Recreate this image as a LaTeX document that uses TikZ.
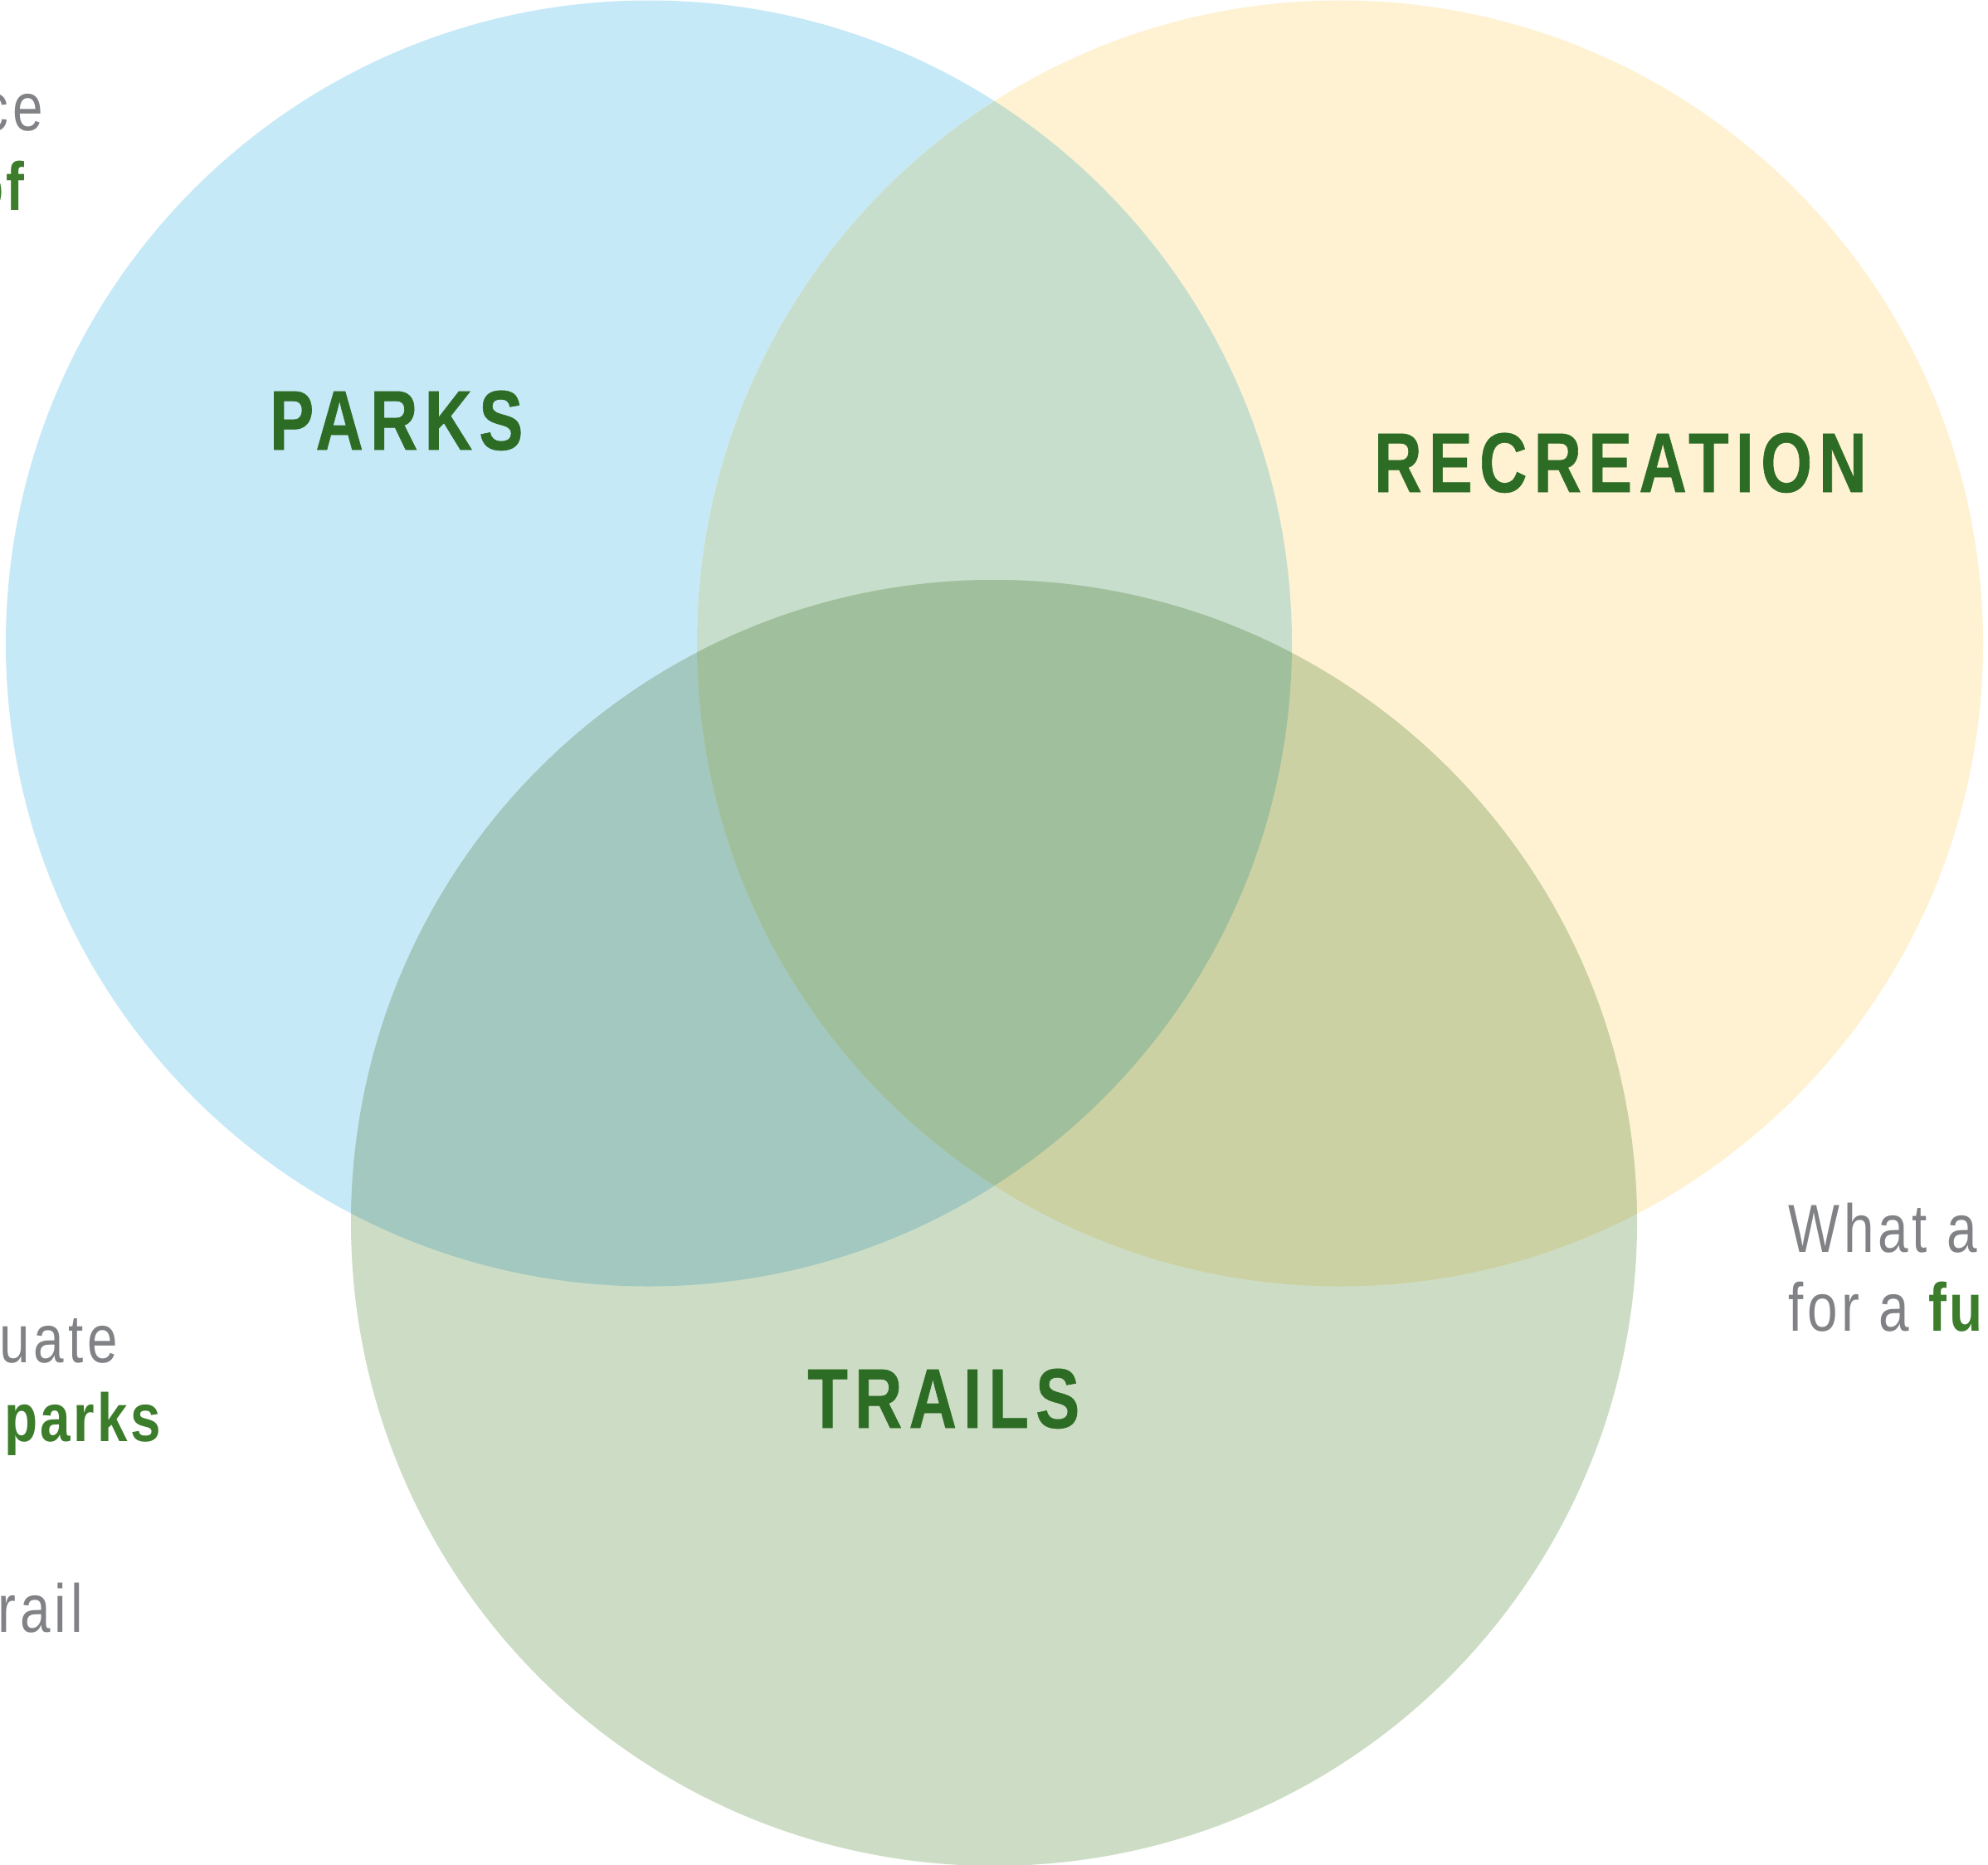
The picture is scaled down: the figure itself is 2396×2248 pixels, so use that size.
\documentclass[tikz,border=0pt]{standalone}
\usepackage{fontspec}
\setmainfont{Liberation Sans}
\newfontfamily\headfont[FakeStretch=0.78,LetterSpace=8,FakeBold=0.6]{Liberation Sans Bold}
\newfontfamily\bodyfont[FakeStretch=0.80,LetterSpace=6]{Liberation Sans}
\newfontfamily\bodybold[FakeStretch=0.80,LetterSpace=4]{Liberation Sans Bold}
\definecolor{cblue}{HTML}{C6E9F8}
\definecolor{cyellow}{HTML}{FEF2D2}
\definecolor{cgreen}{HTML}{CDDDC5}
\definecolor{cab}{HTML}{C7DECD}
\definecolor{cac}{HTML}{A2C8C0}
\definecolor{cbc}{HTML}{CCD1A3}
\definecolor{cabc}{HTML}{A0BF9D}
\definecolor{headgreen}{HTML}{2D6C24}
\definecolor{bodygreen}{HTML}{3B7D2B}
\definecolor{bodygray}{HTML}{808285}
\tikzset{
  heading/.style={inner sep=0pt, text=headgreen, font=\headfont\fontsize{102}{110}\selectfont},
  graytext/.style={inner sep=0pt, text=bodygray, font=\bodyfont\fontsize{82}{95}\selectfont},
  greentext/.style={inner sep=0pt, text=bodygreen, font=\bodybold\fontsize{82}{95}\selectfont},
}
\begin{document}
\begin{tikzpicture}[x=1pt,y=-1pt]
\useasboundingbox (0,0) rectangle (2396,2248);
\fill[white] (0,0) rectangle (2396,2248);
\def\parkscircle{(782,775.5) circle[radius=775]}
\def\reccircle{(1615,775.5) circle[radius=775]}
\def\trailcircle{(1198,1474) circle[radius=775]}
% base circles
\fill[cblue] \parkscircle;
\fill[cyellow] \reccircle;
\fill[cgreen] \trailcircle;
% overlaps
\begin{scope}
  \clip \parkscircle;
  \fill[cab] \reccircle;
\end{scope}
\begin{scope}
  \clip \parkscircle;
  \fill[cac] \trailcircle;
\end{scope}
\begin{scope}
  \clip \reccircle;
  \fill[cbc] \trailcircle;
\end{scope}
\begin{scope}
  \clip \parkscircle;
  \clip \reccircle;
  \fill[cabc] \trailcircle;
\end{scope}
% headings
\node[heading, anchor=base west] (parks) at (325,542) {PARKS};
\node[heading, anchor=base west] (recreation) at (1656,593) {RECREATION};
\node[heading, anchor=base west] (trails) at (973,1721) {TRAILS};
% side text fragments
\node[graytext, anchor=base east] (t1) at (52,157) {ce};
\node[greentext, anchor=base east] (t2) at (30,253) {of};
\node[graytext, anchor=base east] (t3) at (142,1642) {uate};
\node[greentext, anchor=base east] (t4) at (194,1737) {parks};
\node[graytext, anchor=base east] (t5) at (100,1967) {rail};
\node[graytext, anchor=base west] (t6) at (2155,1509) {What a};
\node[graytext, anchor=base west] (t7) at (2155,1604) {for a \textcolor{bodygreen}{\bodybold fu}};
\end{tikzpicture}
\end{document}
